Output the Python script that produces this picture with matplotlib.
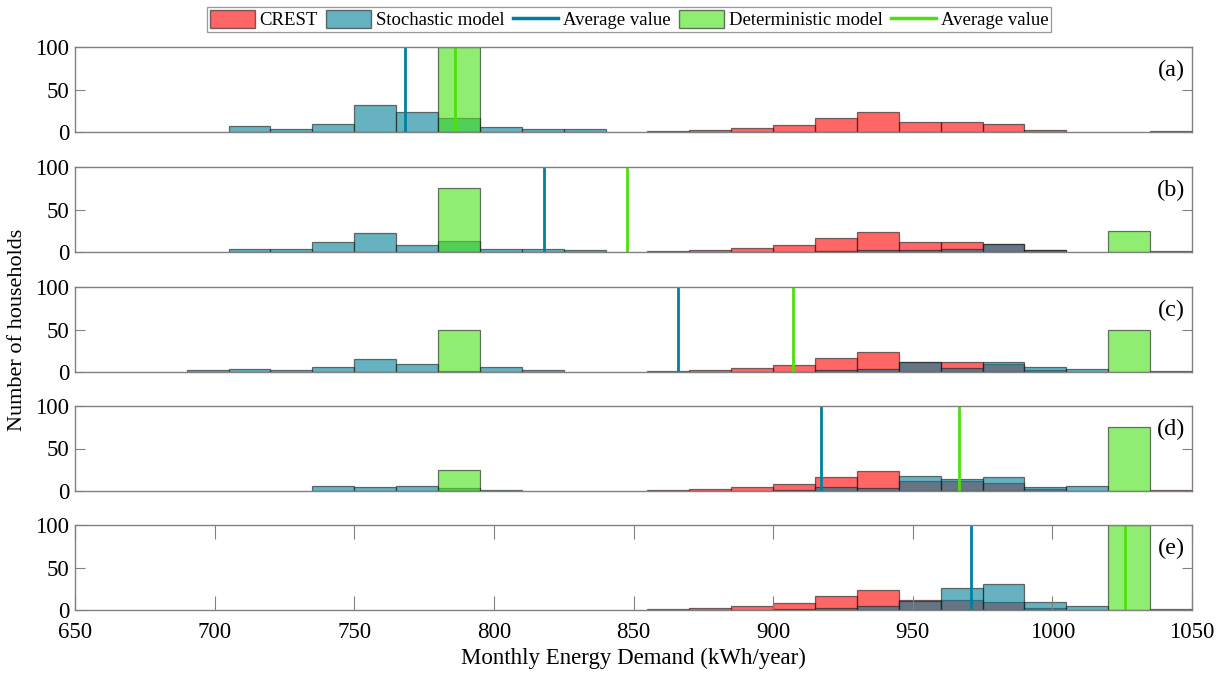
import matplotlib
matplotlib.use("Agg")
import matplotlib.pyplot as plt
import numpy as np
from matplotlib.patches import Patch
from matplotlib.lines import Line2D

plt.rcParams['font.family'] = ['Liberation Serif', 'DejaVu Serif']

# bin edges (kWh/year)
bin_edges = list(range(690, 1051, 15))   # 690 ... 1050, 24 bins

# counts per bin (24 bins, starting at 690)
crest = [0, 0, 0, 0, 0, 0, 0, 0, 0, 0, 0,
         1, 2, 5, 8, 16, 24, 12, 12, 10, 2, 0, 0, 1]

stoch_a = [0, 7, 3, 9, 32, 23, 16, 6, 3, 3, 0, 0, 0, 0, 0, 0, 0, 0, 0, 0, 0, 0, 0, 0]
stoch_b = [0, 4, 3, 12, 22, 8, 13, 4, 4, 2, 0, 0, 0, 0, 0, 1, 2, 2, 4, 10, 2, 0, 0, 0]
stoch_c = [2, 4, 2, 6, 15, 10, 1, 6, 2, 0, 0, 0, 0, 0, 0, 2, 3, 12, 5, 12, 6, 3, 0, 0]
stoch_d = [0, 0, 0, 6, 5, 6, 4, 1, 0, 0, 0, 0, 0, 0, 1, 5, 3, 18, 14, 17, 5, 6, 0, 0]
stoch_e = [0, 0, 0, 0, 0, 0, 0, 0, 0, 0, 0, 0, 0, 0, 1, 2, 5, 11, 26, 31, 9, 5, 0, 0]

det_a = [0]*6 + [100] + [0]*17
det_b = [0]*6 + [75] + [0]*15 + [25, 0]
det_c = [0]*6 + [50] + [0]*15 + [50, 0]
det_d = [0]*6 + [25] + [0]*15 + [75, 0]
det_e = [0]*22 + [100, 0]

stoch_avg = [768, 818, 866, 917, 971]
det_avg = [786, 847.5, 907, 966.5, 1026]
panel_labels = ['(a)', '(b)', '(c)', '(d)', '(e)']

stoch_all = [stoch_a, stoch_b, stoch_c, stoch_d, stoch_e]
det_all = [det_a, det_b, det_c, det_d, det_e]

red = (1.0, 0.0, 0.0)
blue = (0.0, 0.5, 0.6)
green = (0.27, 0.89, 0.07)
alpha = 0.6
edge = (0.1, 0.1, 0.1, 0.7)
axcol = '0.5'
FS = 16.5

fig = plt.figure(figsize=(12.25, 6.73), dpi=100)
W, H = 1225, 673
left, right = 75, 1192
tops = [47, 167, 287, 406, 525]
hgt = 85

centers = [(bin_edges[i] + bin_edges[i + 1]) / 2 for i in range(len(bin_edges) - 1)]


def draw_hist(ax, counts, color):
    _, _, patches = ax.hist(centers, bins=bin_edges, weights=counts, color=color,
                            alpha=alpha, edgecolor=edge, linewidth=0.9)
    for c, p in zip(counts, patches):
        if c == 0:
            p.set_visible(False)


for k in range(5):
    ax = fig.add_axes([left / W, 1 - (tops[k] + hgt) / H, (right - left) / W, hgt / H])
    draw_hist(ax, crest, red)
    draw_hist(ax, stoch_all[k], blue)
    draw_hist(ax, det_all[k], green)
    ax.axvline(stoch_avg[k], color=(0.0, 0.5, 0.62), linewidth=2)
    ax.axvline(det_avg[k], color=(0.3, 0.88, 0.05), linewidth=2)
    ax.set_xlim(650, 1050)
    ax.set_ylim(0, 100)
    ax.set_yticks([0, 50, 100])
    for s in ax.spines.values():
        s.set_color(axcol)
        s.set_linewidth(1.0)
    ax.tick_params(axis='y', direction='in', length=7, color=axcol, right=True,
                   labelsize=FS, pad=4)
    if k < 4:
        ax.set_xticks([])
    else:
        ax.set_xticks(range(650, 1051, 50))
        ax.tick_params(axis='x', direction='in', length=10, color=axcol, top=True,
                       labelsize=FS, pad=9)
        ax.set_xlabel('Monthly Energy Demand (kWh/year)', fontsize=FS, labelpad=3)
    ax.text(0.994, 0.72, panel_labels[k], transform=ax.transAxes, ha='right',
            va='center', fontsize=17.5)

fig.text(18 / W, 1 - 330 / H, 'Number of households', rotation=90, ha='center',
         va='center', fontsize=16)

handles = [
    Patch(facecolor=red, alpha=alpha, edgecolor=edge),
    Patch(facecolor=blue, alpha=alpha, edgecolor=edge),
    Line2D([0], [0], color=(0.0, 0.5, 0.62), linewidth=2.5),
    Patch(facecolor=green, alpha=alpha, edgecolor=edge),
    Line2D([0], [0], color=(0.3, 0.88, 0.05), linewidth=2.5),
]
labels = ['CREST', 'Stochastic model', 'Average value', 'Deterministic model', 'Average value']
leg = fig.legend(handles, labels, loc='center', bbox_to_anchor=(629 / W, 1 - 19.5 / H),
                 ncol=5, fontsize=13.5, frameon=True, fancybox=False,
                 handlelength=2.4, handleheight=1.1, handletextpad=0.25,
                 columnspacing=0.45, borderpad=0.15, borderaxespad=0)
leg.get_frame().set_edgecolor('0.5')
leg.get_frame().set_linewidth(0.9)

fig.savefig('out.png', dpi=100)
